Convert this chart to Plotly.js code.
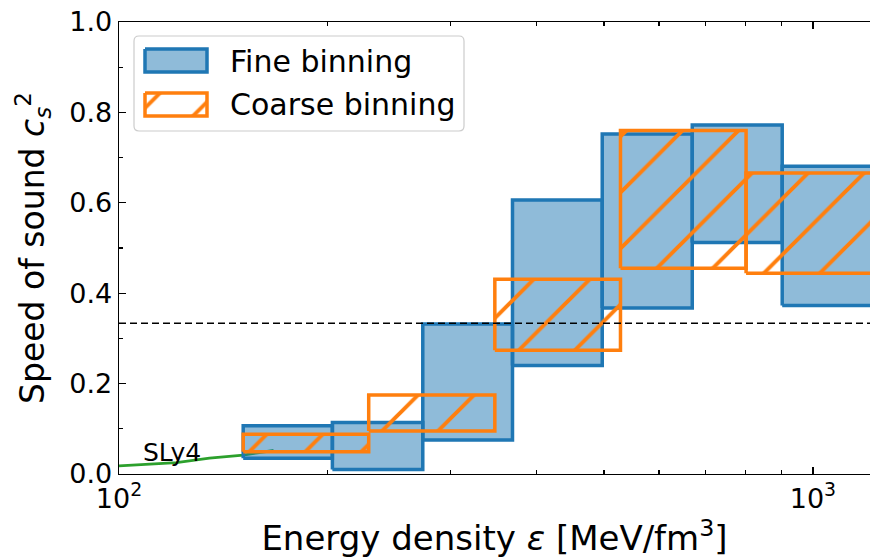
<!DOCTYPE html>
<html><head><meta charset="utf-8">
<script src="https://cdn.plot.ly/plotly-3.0.1.min.js"></script>
<style>html,body{margin:0;padding:0;background:#fff}#chart{width:870px;height:558px}</style>
</head><body><div id="chart"></div>
<script>
// Fine binning: bin edges in energy density (MeV/fm^3), lower/upper bounds of c_s^2
const fineEdges = [151, 203, 274, 369, 497, 670, 903, 1217];
const fineLow  = [0.035, 0.010, 0.075, 0.240, 0.367, 0.512, 0.373];
const fineHigh = [0.107, 0.114, 0.332, 0.606, 0.752, 0.772, 0.681];
// Coarse binning
const coarseEdges = [151, 229, 348, 528, 801, 1217];
const coarseLow  = [0.049, 0.095, 0.274, 0.455, 0.444];
const coarseHigh = [0.088, 0.175, 0.431, 0.760, 0.666];
// SLy4 low-density EoS
const slyEps = [100, 121, 135, 151, 167];
const slyCs2 = [0.018, 0.025, 0.035, 0.042, 0.052];
const slyLabel = 'SLy4';
const conformalLimit = 1 / 3;
// ticks
const xTickVals = [100, 1000];
const xTickText = ['10<sup>2</sup>', '10<sup>3</sup>'];
const xMinorVals = [200, 300, 400, 500, 600, 700, 800, 900];
const seriesNames = ['Fine binning', 'Coarse binning'];

const FONT = 'DejaVu Sans, Liberation Sans, sans-serif';
const BLUE = '#1f77b4', BLUE_FILL = 'rgba(31,119,180,0.5)', ORANGE = '#ff7f0e';
const hatch = {shape: '/', fgcolor: ORANGE, bgcolor: 'rgba(0,0,0,0)', size: 39.6, solidity: 0.1, fillmode: 'replace'};

const traces = [];
traces.push({type: 'scatter', mode: 'lines', x: slyEps, y: slyCs2,
  line: {color: '#2ca02c', width: 2.8}, hoverinfo: 'skip', showlegend: false});

function boxTrace(edges, lo, hi, i, style) {
  const x0 = edges[i], x1 = edges[i + 1];
  return Object.assign({type: 'scatter', mode: 'lines',
    x: [x0, x1, x1, x0, x0], y: [lo[i], lo[i], hi[i], hi[i], lo[i]],
    fill: 'toself', showlegend: false, hoverinfo: 'skip'}, style);
}
for (let i = 0; i < fineLow.length; i++) {
  traces.push(boxTrace(fineEdges, fineLow, fineHigh, i,
    {name: seriesNames[0], line: {color: BLUE, width: 3.5}, fillcolor: BLUE_FILL}));
}
for (let i = 0; i < coarseLow.length; i++) {
  traces.push(boxTrace(coarseEdges, coarseLow, coarseHigh, i,
    {name: seriesNames[1], line: {color: ORANGE, width: 3.5}, fillcolor: 'rgba(0,0,0,0)', fillpattern: hatch}));
}

// custom legend drawn in an overlay pixel-space axis pair
const PL = 119, PR = 870, PT = 22, PB = 474;
function legendPatch(x0, x1, y0, y1, style) {
  return Object.assign({type: 'scatter', mode: 'lines', xaxis: 'x2', yaxis: 'y2',
    x: [x0, x1, x1, x0, x0], y: [y0, y0, y1, y1, y0], fill: 'toself',
    showlegend: false, hoverinfo: 'skip'}, style);
}
traces.push(legendPatch(145, 207, 49, 72, {line: {color: BLUE, width: 3.5}, fillcolor: BLUE_FILL}));
traces.push(legendPatch(145, 207, 93, 116, {line: {color: ORANGE, width: 3.5}, fillcolor: 'rgba(0,0,0,0)', fillpattern: hatch}));

function roundRect(x0, y0, x1, y1, r) {
  return `M${x0 + r},${y0} L${x1 - r},${y0} Q${x1},${y0} ${x1},${y0 + r} L${x1},${y1 - r} Q${x1},${y1} ${x1 - r},${y1} ` +
         `L${x0 + r},${y1} Q${x0},${y1} ${x0},${y1 - r} L${x0},${y0 + r} Q${x0},${y0} ${x0 + r},${y0} Z`;
}

const layout = {
  width: 870, height: 558,
  margin: {l: PL, r: 870 - PR, t: PT, b: 558 - PB},
  paper_bgcolor: '#fff', plot_bgcolor: '#fff',
  font: {family: FONT, color: '#000', size: 27},
  showlegend: false,
  xaxis: {
    type: 'log', range: [2, 3.0822],
    tickvals: xTickVals, ticktext: xTickText,
    ticks: 'inside', ticklen: 7, tickwidth: 1.3, tickcolor: '#000',
    minor: {tickvals: xMinorVals, ticks: 'inside', ticklen: 4, tickwidth: 1.1, tickcolor: '#000', showgrid: false},
    showline: true, linecolor: '#000', linewidth: 1.3, mirror: 'ticks',
    showgrid: false, zeroline: false,
    tickfont: {size: 27},
    title: {text: 'Energy density <i>ε</i> [MeV/fm<sup>3</sup>]', font: {size: 34}, standoff: 24}
  },
  yaxis: {
    range: [0, 1], dtick: 0.2, tick0: 0, tickformat: '.1f',
    ticks: 'inside', ticklen: 7, tickwidth: 1.3, tickcolor: '#000',
    minor: {dtick: 0.1, ticks: 'inside', ticklen: 4, tickwidth: 1.1, tickcolor: '#000', showgrid: false},
    showline: true, linecolor: '#000', linewidth: 1.3,
    showgrid: false, zeroline: false,
    tickfont: {size: 27},
    title: {text: 'Speed of sound <i>c</i><sub><i>s</i></sub><sup>2</sup>', font: {size: 33}, standoff: 14}
  },
  xaxis2: {overlaying: 'x', anchor: 'y2', range: [PL, PR], visible: false, fixedrange: true},
  yaxis2: {overlaying: 'y', anchor: 'x2', range: [PB, PT], visible: false, fixedrange: true},
  shapes: [
    {type: 'line', xref: 'paper', x0: 0, x1: 1, yref: 'y', y0: conformalLimit, y1: conformalLimit,
     line: {color: '#000', width: 1.5, dash: '7px,4px'}, layer: 'above'},
    {type: 'path', xref: 'x2', yref: 'y2', path: roundRect(134, 36, 464, 131, 5),
     fillcolor: 'rgba(255,255,255,0.8)', line: {color: '#cccccc', width: 1.2}, layer: 'below'}
  ],
  annotations: [
    {xref: 'x', yref: 'y', x: Math.log10(107.5), y: 0.047, text: slyLabel, showarrow: false,
     xanchor: 'left', yanchor: 'middle', font: {size: 25}},
    {xref: 'x2', yref: 'y2', x: 228, y: 61, text: seriesNames[0], showarrow: false,
     xanchor: 'left', yanchor: 'middle', font: {size: 30}},
    {xref: 'x2', yref: 'y2', x: 228, y: 104, text: seriesNames[1], showarrow: false,
     xanchor: 'left', yanchor: 'middle', font: {size: 30}}
  ]
};

Plotly.newPlot('chart', traces, layout, {staticPlot: true, displayModeBar: false});
</script>
</body></html>
